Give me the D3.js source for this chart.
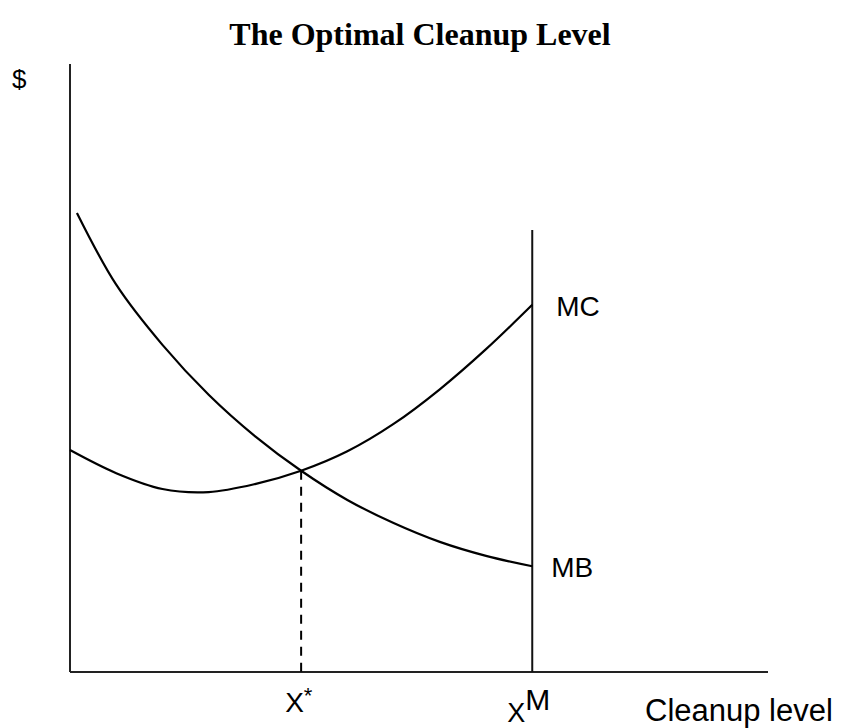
<!DOCTYPE html>
<html>
<head>
<meta charset="utf-8">
<script src="https://cdn.jsdelivr.net/npm/d3@7"></script>
<style>
  body { margin: 0; background: #fff; }
  text { fill: #000; }
</style>
</head>
<body>
<div id="chart"></div>
<script>
// cleanup level (x units, XM = 10)
const mbX = [0.15, 1, 2, 3, 4, 5, 6, 7, 8, 9, 10];
const mbValues = [75.5, 63.7, 53.8, 45.6, 38.8, 33.1, 28.3, 24.5, 21.4, 19.1, 17.4];
const mcX = [0, 1, 2, 3, 4, 5, 6, 7, 8, 9, 10];
const mcValues = [36.5, 32.7, 30.1, 29.6, 30.9, 33.1, 36.3, 40.8, 46.5, 53.1, 60.4];
const xStar = 5, xStarValue = 33.1;
const xMax = 10, xMaxTop = 72.7;

const width = 842, height = 728;
let svg = d3.select('#chart')
            .append('svg')
            .attr('width', width)
            .attr('height', height);

let x = d3.scaleLinear().domain([0, 15.1]).range([70, 768]);
let y = d3.scaleLinear().domain([0, 100]).range([672, 64]);

// title
svg.append('text')
   .attr('x', 420).attr('y', 45)
   .attr('text-anchor', 'middle')
   .style('font-family', '"Liberation Serif", "Times New Roman", serif')
   .style('font-weight', 'bold')
   .style('font-size', '32px')
   .text('The Optimal Cleanup Level');

// axes (plain lines, no ticks)
svg.append('line')
   .attr('x1', x(0)).attr('x2', x(0))
   .attr('y1', y(100)).attr('y2', y(0))
   .attr('stroke', '#222').attr('stroke-width', 2);
svg.append('line')
   .attr('x1', x(0)).attr('x2', x(15.1))
   .attr('y1', y(0)).attr('y2', y(0))
   .attr('stroke', '#222').attr('stroke-width', 2);

// XM vertical line
svg.append('line')
   .attr('x1', x(xMax)).attr('x2', x(xMax))
   .attr('y1', y(xMaxTop)).attr('y2', y(0))
   .attr('stroke', '#111').attr('stroke-width', 2);

// dashed line at X*
svg.append('line')
   .attr('x1', x(xStar)).attr('x2', x(xStar))
   .attr('y1', y(xStarValue)).attr('y2', y(0))
   .attr('stroke', '#000').attr('stroke-width', 2)
   .attr('stroke-dasharray', '9,7');

let line = d3.line()
             .x(d => x(d[0]))
             .y(d => y(d[1]))
             .curve(d3.curveCatmullRom.alpha(0.5));

svg.append('path')
   .attr('d', line(mbX.map((c, i) => [c, mbValues[i]])))
   .attr('fill', 'none').attr('stroke', '#000').attr('stroke-width', 2.2);

svg.append('path')
   .attr('d', line(mcX.map((c, i) => [c, mcValues[i]])))
   .attr('fill', 'none').attr('stroke', '#000').attr('stroke-width', 2.2);

const sans = '"Liberation Sans", Arial, sans-serif';

// curve labels
svg.append('text')
   .attr('x', x(xMax) + 24).attr('y', y(mcValues[mcValues.length - 1]) + 11)
   .style('font-family', sans).style('font-size', '28px')
   .text('MC');
svg.append('text')
   .attr('x', x(xMax) + 19).attr('y', y(mbValues[mbValues.length - 1]) + 11)
   .style('font-family', sans).style('font-size', '28px')
   .text('MB');

// $ label
svg.append('text')
   .attr('x', 12).attr('y', 88)
   .style('font-family', sans).style('font-size', '26px')
   .text('$');

// X* label
let xs = svg.append('text')
   .attr('x', x(xStar) - 16).attr('y', 712)
   .style('font-family', sans).style('font-size', '28px');
xs.append('tspan').text('X');
xs.append('tspan').attr('dy', -9).style('font-size', '22px').text('*');

// XM label
let xm = svg.append('text')
   .attr('x', x(xMax) - 25).attr('y', 722)
   .style('font-family', sans).style('font-size', '27px');
xm.append('tspan').text('X');
xm.append('tspan').attr('dy', -12).style('font-size', '30px').text('M');

// x-axis title
svg.append('text')
   .attr('x', 645).attr('y', 721)
   .style('font-family', sans).style('font-size', '31px')
   .text('Cleanup level');
</script>
</body>
</html>
